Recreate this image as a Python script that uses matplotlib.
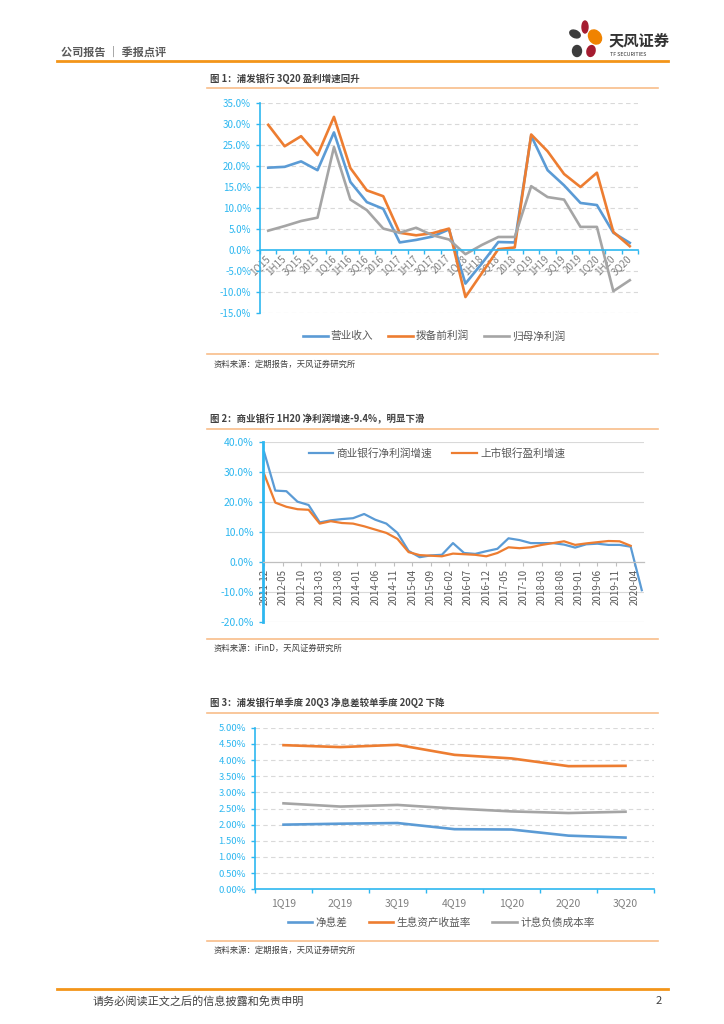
import numpy as np
import matplotlib
matplotlib.use("Agg")
import matplotlib.pyplot as plt
from matplotlib.lines import Line2D
from matplotlib.patches import Ellipse

plt.rcParams['font.family'] = ['Noto Sans CJK SC', 'DejaVu Sans']
plt.rcParams['axes.unicode_minus'] = False

# ---------------- data ----------------
cats1 = ["1Q15", "1H15", "3Q15", "2015", "1Q16", "1H16", "3Q16", "2016",
         "1Q17", "1H17", "3Q17", "2017", "1Q18", "1H18", "3Q18", "2018",
         "1Q19", "1H19", "3Q19", "2019", "1Q20", "1H20", "3Q20"]
revenue = [19.6, 19.8, 21.1, 19.0, 28.0, 16.2, 11.4, 9.8,
           1.8, 2.4, 3.2, 4.9, -8.0, -3.2, 1.9, 1.8,
           27.2, 19.0, 15.4, 11.2, 10.7, 4.1, 1.7]
ppop = [29.8, 24.7, 27.1, 22.6, 31.7, 19.5, 14.2, 12.8,
        4.1, 3.5, 4.0, 5.1, -11.2, -5.5, 0.2, 0.6,
        27.5, 23.5, 18.1, 15.0, 18.4, 4.3, 0.9]
net_profit = [4.6, 5.7, 6.9, 7.7, 24.5, 12.0, 9.5, 5.1,
              4.1, 5.3, 3.5, 2.5, -1.0, 1.2, 3.1, 3.1,
              15.2, 12.6, 12.0, 5.5, 5.5, -9.8, -7.2]
legend1 = ["营业收入", "拨备前利润", "归母净利润"]

dates2 = ["2011-12", "2012-03", "2012-06", "2012-09", "2012-12", "2013-03", "2013-06",
          "2013-09", "2013-12", "2014-03", "2014-06", "2014-09", "2014-12", "2015-03",
          "2015-06", "2015-09", "2015-12", "2016-03", "2016-06", "2016-09", "2016-12",
          "2017-03", "2017-06", "2017-09", "2017-12", "2018-03", "2018-06", "2018-09",
          "2018-12", "2019-03", "2019-06", "2019-09", "2019-12", "2020-03", "2020-06"]
bank_np = [36.6, 23.8, 23.6, 20.1, 19.0, 13.2, 13.9, 14.3, 14.6, 16.0, 14.1, 12.8,
           9.7, 3.7, 1.6, 2.2, 2.4, 6.3, 3.0, 2.7, 3.6, 4.4, 7.9, 7.3, 6.3, 6.3,
           6.3, 5.8, 4.8, 5.9, 6.1, 5.7, 5.7, 5.1, -9.4]
listed_np = [29.3, 19.8, 18.4, 17.6, 17.4, 12.8, 13.6, 13.0, 12.8, 11.9, 10.8, 9.7,
             7.7, 3.3, 2.3, 2.1, 1.9, 2.8, 2.6, 2.4, 1.9, 3.0, 4.9, 4.6, 4.9, 5.7,
             6.3, 6.9, 5.7, 6.2, 6.6, 7.0, 6.9, 5.4]
tick_labels2 = ["2011-12", "2012-05", "2012-10", "2013-03", "2013-08", "2014-01", "2014-06",
                "2014-11", "2015-04", "2015-09", "2016-02", "2016-07", "2016-12", "2017-05",
                "2017-10", "2018-03", "2018-08", "2019-01", "2019-06", "2019-11", "2020-04"]
legend2 = ["商业银行净利润增速", "上市银行盈利增速"]

cats3 = ["1Q19", "2Q19", "3Q19", "4Q19", "1Q20", "2Q20", "3Q20"]
nim = [2.00, 2.03, 2.05, 1.86, 1.85, 1.66, 1.60]
asset_yield = [4.46, 4.40, 4.47, 4.16, 4.05, 3.81, 3.82]
liab_cost = [2.66, 2.56, 2.61, 2.50, 2.41, 2.36, 2.40]
legend3 = ["净息差", "生息资产收益率", "计息负债成本率"]

# ---------------- style ----------------
BLUE = "#5B9BD5"
ORANGE = "#ED7D31"
GRAY = "#A5A5A5"
CYAN = "#2DB7F0"
GRID = "#D9D9D9"
TXT = "#595959"
LTXT = "#7F7F7F"
HDR_OR = "#F39519"
LINE_OR = "#F8BE8A"

W, H = 724, 1024
fig = plt.figure(figsize=(W / 100, H / 100), dpi=100)


def rect(l, t, r, b):
    return [l / W, 1 - b / H, (r - l) / W, (b - t) / H]


def hline(x1, x2, y, color, lw):
    fig.add_artist(Line2D([x1 / W, x2 / W], [1 - y / H, 1 - y / H],
                          transform=fig.transFigure, color=color, lw=lw))


def ftext(x, y, s, **kw):
    fig.text(x / W, 1 - y / H, s, **kw)


def pct(v, d):
    return f"{v:.{d}f}%"


# ---------------- header / footer ----------------
ftext(61, 52, "公司报告 ｜ 季报点评", fontsize=8, color=TXT, va="center", weight="bold")
hline(57, 668, 61, HDR_OR, 2.0)
hline(57, 668, 989, HDR_OR, 2.0)
ftext(93, 1001, "请务必阅读正文之后的信息披露和免责申明", fontsize=8, color="#404040", va="center")
ftext(662, 1001, "2", fontsize=8, color="#404040", va="center", ha="right")

axl = fig.add_axes(rect(560, 18, 672, 60))
axl.set_xlim(560, 672)
axl.set_ylim(60, 18)
axl.axis("off")
for (cx, cy, w, h, a, c) in [(575, 34, 11, 7, 25, "#3C3C3C"), (585, 27, 6, 12, 0, "#A51C30"),
                             (595, 37, 12, 15, -35, "#F08300"), (577, 51, 9, 11, 0, "#3C3C3C"),
                             (591, 51, 8, 11, 15, "#A51C30")]:
    axl.add_patch(Ellipse((cx, cy), w, h, angle=a, color=c))
axl.text(609, 40, "天风证券", fontsize=11, weight="bold", color="#333333", va="center", ha="left")
axl.text(610, 54, "TF SECURITIES", fontsize=3.8, color="#333333", va="center", ha="left")


def style_axes(ax, left_color=CYAN):
    ax.spines["top"].set_visible(False)
    ax.spines["right"].set_visible(False)
    ax.spines["left"].set_color(left_color)
    ax.spines["left"].set_linewidth(1.2)
    ax.tick_params(axis="y", colors=left_color, length=3, width=1)
    ax.set_facecolor("none")


# ---------------- chart 1 ----------------
ftext(210, 79, "图 1：浦发银行 3Q20 盈利增速回升", fontsize=6.8, weight="bold", color="#404040", va="center")
hline(207, 658, 87.5, LINE_OR, 1.2)

ax1 = fig.add_axes(rect(260, 103, 638, 313))
x1 = np.arange(len(cats1))
ax1.plot(x1, revenue, color=BLUE, lw=1.9, label=legend1[0])
ax1.plot(x1, ppop, color=ORANGE, lw=1.9, label=legend1[1])
ax1.plot(x1, net_profit, color=GRAY, lw=1.9, label=legend1[2])
ax1.set_xlim(-0.5, len(cats1) - 0.5)
ax1.set_ylim(-15, 35)
yt1 = np.arange(-15, 36, 5)
ax1.set_yticks(yt1)
ax1.set_yticklabels([pct(v, 1) for v in yt1], color=LTXT, fontsize=7)
for v in yt1:
    if v != 0:
        ax1.axhline(v, color=GRID, lw=0.8, ls=(0, (4, 3)), zorder=0)
style_axes(ax1)
ax1.spines["bottom"].set_position(("data", 0))
ax1.spines["bottom"].set_color(CYAN)
ax1.spines["bottom"].set_linewidth(1.2)
ax1.set_xticks(np.arange(-0.5, len(cats1), 1))
ax1.set_xticklabels([])
ax1.tick_params(axis="x", which="major", colors=CYAN, length=3, width=1, direction="out")
ax1.set_xticks(x1, minor=True)
ax1.set_xticklabels(cats1, minor=True, rotation=45, ha="right", va="center",
                    rotation_mode="anchor", fontsize=7, color=LTXT)
ax1.tick_params(axis="x", which="minor", length=0, pad=5)
fig.legend(handles=ax1.get_lines(), labels=legend1, loc="center",
           bbox_to_anchor=(434 / W, 1 - 336 / H), ncol=3, frameon=False,
           fontsize=7.7, handlelength=2.3, handletextpad=0.3, columnspacing=1.4,
           labelcolor=TXT)

ftext(214, 364, "资料来源：定期报告，天风证券研究所", fontsize=6, color="#404040", va="center")
hline(207, 658, 354, LINE_OR, 1.2)

# ---------------- chart 2 ----------------
ftext(210, 419, "图 2：商业银行 1H20 净利润增速-9.4%，明显下滑", fontsize=6.8, weight="bold",
      color="#404040", va="center")
hline(207, 658, 429, LINE_OR, 1.2)


def month_idx(s):
    y, m = s.split("-")
    return (int(y) - 2011) * 12 + int(m) - 12


ax2 = fig.add_axes(rect(262.7, 442, 644, 622))
m2 = np.array([month_idx(d) for d in dates2])
ax2.plot(m2, bank_np, color=BLUE, lw=1.6, label=legend2[0])
ax2.plot(m2[:len(listed_np)], listed_np, color=ORANGE, lw=1.6, label=legend2[1])
ax2.set_xlim(-0.4, 102.6)
ax2.set_ylim(-20, 40)
yt2 = np.arange(-20, 41, 10)
ax2.set_yticks(yt2)
ax2.set_yticklabels([pct(v, 1) for v in yt2], color=TXT, fontsize=7.5)
for v in yt2:
    if v != 0:
        ax2.axhline(v, color=GRID, lw=0.8, zorder=0)
style_axes(ax2)
ax2.spines["left"].set_linewidth(2.0)
ax2.spines["bottom"].set_position(("data", 0))
ax2.spines["bottom"].set_color("#BFBFBF")
ax2.spines["bottom"].set_linewidth(0.9)
ax2.set_xticks([month_idx(t) for t in tick_labels2])
ax2.set_xticklabels(tick_labels2, rotation=90, fontsize=7, color=TXT, va="top", ha="center")
ax2.tick_params(axis="x", colors="#BFBFBF", length=3, width=0.8, pad=2)
for lbl in ax2.get_xticklabels():
    lbl.set_color(TXT)
ax2.legend(loc="center", bbox_to_anchor=(437 / W, 1 - 453 / H), bbox_transform=fig.transFigure,
           ncol=2, frameon=False, fontsize=7.7, handlelength=2.3, handletextpad=0.3,
           columnspacing=1.9, labelcolor=TXT)

ftext(214, 648, "资料来源：iFinD，天风证券研究所", fontsize=6, color="#404040", va="center")
hline(207, 658, 639, LINE_OR, 1.2)

# ---------------- chart 3 ----------------
ftext(210, 703, "图 3：浦发银行单季度 20Q3 净息差较单季度 20Q2 下降", fontsize=6.8, weight="bold",
      color="#404040", va="center")
hline(207, 658, 712.5, LINE_OR, 1.2)

ax3 = fig.add_axes(rect(255, 727.7, 654, 889.3))
x3 = np.arange(len(cats3))
ax3.plot(x3, nim, color=BLUE, lw=1.9, label=legend3[0])
ax3.plot(x3, asset_yield, color=ORANGE, lw=1.9, label=legend3[1])
ax3.plot(x3, liab_cost, color=GRAY, lw=1.9, label=legend3[2])
ax3.set_xlim(-0.5, len(cats3) - 0.5)
ax3.set_ylim(0, 5)
yt3 = np.arange(0, 5.01, 0.5)
ax3.set_yticks(yt3)
ax3.set_yticklabels([pct(v, 2) for v in yt3], color=LTXT, fontsize=6.8)
for v in yt3[1:]:
    ax3.axhline(v, color=GRID, lw=0.8, ls=(0, (4, 3)), zorder=0)
style_axes(ax3)
ax3.spines["bottom"].set_color(CYAN)
ax3.spines["bottom"].set_linewidth(1.2)
ax3.set_xticks(np.arange(-0.5, len(cats3), 1))
ax3.set_xticklabels([])
ax3.tick_params(axis="x", which="major", colors=CYAN, length=3, width=1, direction="out")
ax3.set_xticks(x3, minor=True)
ax3.set_xticklabels(cats3, minor=True, fontsize=7.5, color=LTXT)
ax3.tick_params(axis="x", which="minor", length=0, pad=6)
fig.legend(handles=ax3.get_lines(), labels=legend3, loc="center",
           bbox_to_anchor=(441 / W, 1 - 923 / H), ncol=3, frameon=False,
           fontsize=7.7, handlelength=2.3, handletextpad=0.3, columnspacing=2.0,
           labelcolor=TXT)

ftext(214, 950, "资料来源：定期报告，天风证券研究所", fontsize=6, color="#404040", va="center")
hline(207, 658, 941, LINE_OR, 1.2)

fig.savefig("out.png", dpi=100, facecolor="white")
